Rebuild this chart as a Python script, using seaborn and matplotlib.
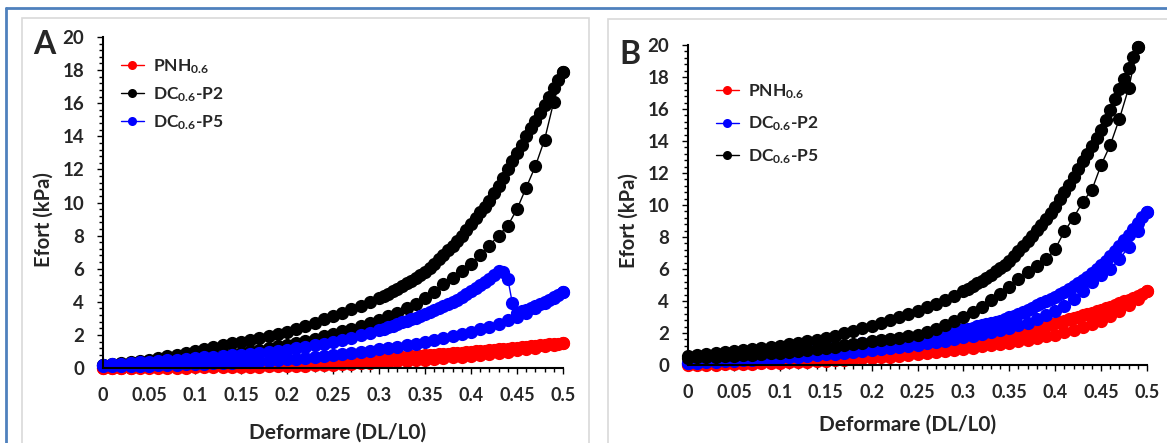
import matplotlib
matplotlib.use("Agg")
import matplotlib.pyplot as plt
from matplotlib.lines import Line2D
from matplotlib.patches import Rectangle
from matplotlib.ticker import MultipleLocator, FormatStrFormatter
import seaborn as sns
import pandas as pd

# strain grid of the loading branches (denser where the curves get steep)
STRAIN_LOAD = [
    0.00, 0.01, 0.02, 0.03, 0.04, 0.05, 0.06, 0.07, 0.08, 0.09,
    0.10, 0.11, 0.12, 0.13, 0.14, 0.15, 0.16, 0.17, 0.18, 0.19,
    0.20, 0.21, 0.22, 0.23, 0.24, 0.25, 0.26, 0.27, 0.28, 0.29,
    0.30, 0.305, 0.31, 0.315, 0.32, 0.325, 0.33, 0.335, 0.34, 0.345, 0.35,
    0.355, 0.36, 0.365, 0.37, 0.375, 0.38, 0.385, 0.39, 0.395, 0.40,
    0.405, 0.41, 0.415, 0.42, 0.425, 0.43, 0.435, 0.44, 0.445, 0.45,
    0.455, 0.46, 0.465, 0.47, 0.475, 0.48, 0.485, 0.49, 0.495, 0.50,
]
# strain grid of the unloading branches (going back to zero)
STRAIN_UNLOAD = [
    0.50, 0.49, 0.48, 0.47, 0.46, 0.45, 0.44, 0.43, 0.42, 0.41,
    0.40, 0.39, 0.38, 0.37, 0.36, 0.35, 0.34, 0.33, 0.32, 0.31,
    0.30, 0.29, 0.28, 0.27, 0.26, 0.25, 0.24, 0.23, 0.22, 0.21,
    0.20, 0.19, 0.18, 0.17, 0.16, 0.15, 0.14, 0.13, 0.12, 0.11,
    0.10, 0.09, 0.08, 0.07, 0.06, 0.05, 0.04, 0.03, 0.02, 0.01,
    0.00,
]

# ---- panel A (kPa) ----
A_PNH_LOAD = [
    0.00, 0.01, 0.02, 0.03, 0.04, 0.05, 0.06, 0.07, 0.08, 0.10,
    0.11, 0.13, 0.14, 0.16, 0.18, 0.20, 0.22, 0.24, 0.26, 0.28,
    0.30, 0.32, 0.35, 0.37, 0.40, 0.42, 0.45, 0.48, 0.51, 0.54,
    0.57, 0.59, 0.60, 0.62, 0.64, 0.66, 0.68, 0.70, 0.72, 0.74, 0.76,
    0.78, 0.80, 0.82, 0.84, 0.86, 0.88, 0.91, 0.93, 0.95, 0.97,
    1.00, 1.02, 1.04, 1.07, 1.09, 1.12, 1.14, 1.17, 1.19, 1.22,
    1.25, 1.27, 1.30, 1.33, 1.36, 1.39, 1.42, 1.45, 1.48, 1.51,
]
A_PNH_UNLOAD = [
    1.50, 1.40, 1.31, 1.22, 1.14, 1.06, 0.99, 0.92, 0.86, 0.80,
    0.74, 0.69, 0.64, 0.59, 0.55, 0.51, 0.47, 0.43, 0.40, 0.37,
    0.34, 0.31, 0.28, 0.26, 0.23, 0.21, 0.19, 0.17, 0.15, 0.14,
    0.12, 0.11, 0.10, 0.09, 0.08, 0.07, 0.06, 0.05, 0.05, 0.04,
    0.04, 0.03, 0.03, 0.02, 0.02, 0.01, 0.01, 0.01, 0.00, 0.00,
    0.00,
]
A_P2_LOAD = [
    0.20, 0.25, 0.31, 0.37, 0.43, 0.50, 0.60, 0.70, 0.81, 0.93,
    1.05, 1.16, 1.27, 1.38, 1.49, 1.60, 1.71, 1.83, 1.95, 2.07,
    2.20, 2.37, 2.55, 2.74, 2.94, 3.15, 3.35, 3.55, 3.76, 3.98,
    4.20, 4.34, 4.48, 4.63, 4.79, 4.95, 5.11, 5.28, 5.45, 5.62, 5.80,
    6.05, 6.30, 6.56, 6.83, 7.10, 7.38, 7.67, 7.97, 8.33, 8.70,
    9.05, 9.40, 9.75, 10.10, 10.55, 11.00, 11.50, 12.00, 12.50, 13.00,
    13.50, 14.00, 14.48, 14.95, 15.43, 15.90, 16.40, 16.90, 17.40, 17.90,
]
A_P2_UNLOAD = [
    17.90, 16.10, 13.80, 12.20, 10.90, 9.60, 8.60, 8.00, 7.40, 6.80,
    6.30, 5.85, 5.45, 5.05, 4.60, 4.20, 3.88, 3.60, 3.35, 3.12,
    2.90, 2.72, 2.55, 2.38, 2.22, 2.05, 1.92, 1.78, 1.65, 1.52,
    1.40, 1.30, 1.20, 1.10, 1.00, 0.92, 0.85, 0.78, 0.71, 0.65,
    0.60, 0.55, 0.50, 0.45, 0.40, 0.36, 0.32, 0.28, 0.24, 0.20,
    0.16,
]
A_P5_LOAD = [
    0.18, 0.22, 0.26, 0.30, 0.34, 0.38, 0.42, 0.46, 0.50, 0.55,
    0.60, 0.64, 0.68, 0.72, 0.76, 0.81, 0.86, 0.92, 0.98, 1.04,
    1.10, 1.18, 1.27, 1.37, 1.48, 1.58, 1.70, 1.83, 1.98, 2.13,
    2.30, 2.38, 2.47, 2.56, 2.65, 2.75, 2.85, 2.95, 3.05, 3.15, 3.25,
    3.37, 3.49, 3.61, 3.73, 3.86, 3.99, 4.13, 4.27, 4.45, 4.65,
    4.82, 5.00, 5.18, 5.38, 5.60, 5.85, 5.80, 5.40, 3.90, 3.35,
    3.42, 3.52, 3.63, 3.75, 3.87, 3.99, 4.12, 4.26, 4.42, 4.60,
]
A_P5_UNLOAD = [
    4.60, 4.25, 3.95, 3.65, 3.35, 3.10, 2.88, 2.68, 2.50, 2.34,
    2.19, 2.05, 1.92, 1.80, 1.69, 1.58, 1.48, 1.38, 1.29, 1.20,
    1.12, 1.04, 0.97, 0.90, 0.84, 0.78, 0.72, 0.67, 0.62, 0.57,
    0.53, 0.49, 0.45, 0.42, 0.39, 0.36, 0.33, 0.30, 0.28, 0.26,
    0.24, 0.22, 0.20, 0.18, 0.16, 0.15, 0.13, 0.12, 0.11, 0.10,
    0.10,
]

# ---- panel B (kPa) ----
B_PNH_LOAD = [
    0.05, 0.08, 0.10, 0.12, 0.14, 0.16, 0.20, 0.24, 0.28, 0.32,
    0.36, 0.41, 0.46, 0.51, 0.56, 0.62, 0.68, 0.74, 0.80, 0.87,
    0.94, 1.00, 1.06, 1.12, 1.18, 1.24, 1.30, 1.37, 1.44, 1.51,
    1.58, 1.62, 1.66, 1.70, 1.74, 1.78, 1.83, 1.88, 1.93, 1.98, 2.03,
    2.08, 2.13, 2.19, 2.25, 2.31, 2.37, 2.43, 2.50, 2.57, 2.64,
    2.71, 2.78, 2.86, 2.94, 3.02, 3.10, 3.18, 3.27, 3.36, 3.45,
    3.55, 3.65, 3.75, 3.86, 3.97, 4.08, 4.20, 4.33, 4.46, 4.60,
]
B_PNH_UNLOAD = [
    4.60, 4.15, 3.75, 3.40, 3.05, 2.75, 2.55, 2.36, 2.20, 2.04,
    1.90, 1.79, 1.68, 1.58, 1.49, 1.40, 1.32, 1.24, 1.16, 1.08,
    1.00, 0.93, 0.86, 0.79, 0.72, 0.66, 0.62, 0.58, 0.53, 0.49,
    0.45, 0.41, 0.37, 0.33, 0.29, 0.25, 0.23, 0.21, 0.19, 0.17,
    0.15, 0.13, 0.11, 0.09, 0.07, 0.05, 0.04, 0.03, 0.02, 0.01,
    0.00,
]
B_P2_LOAD = [
    0.15, 0.19, 0.23, 0.27, 0.31, 0.35, 0.45, 0.60, 0.75, 0.78,
    0.81, 0.86, 0.91, 0.96, 1.02, 1.08, 1.14, 1.21, 1.28, 1.35,
    1.42, 1.48, 1.54, 1.60, 1.67, 1.75, 1.83, 1.92, 2.01, 2.11,
    2.22, 2.28, 2.34, 2.41, 2.48, 2.55, 2.62, 2.70, 2.78, 2.87, 2.97,
    3.08, 3.19, 3.31, 3.44, 3.58, 3.72, 3.86, 4.00, 4.14, 4.28,
    4.43, 4.59, 4.76, 4.94, 5.13, 5.33, 5.53, 5.75, 5.98, 6.22,
    6.50, 6.80, 7.12, 7.46, 7.80, 8.15, 8.50, 8.86, 9.22, 9.58,
]
B_P2_UNLOAD = [
    9.58, 8.40, 7.40, 6.60, 6.00, 5.60, 5.20, 4.60, 4.10, 3.70,
    3.40, 3.10, 2.85, 2.65, 2.48, 2.32, 2.18, 2.05, 1.93, 1.82,
    1.72, 1.62, 1.53, 1.44, 1.36, 1.28, 1.20, 1.13, 1.06, 0.99,
    0.93, 0.87, 0.81, 0.76, 0.71, 0.66, 0.61, 0.57, 0.52, 0.48,
    0.44, 0.40, 0.36, 0.33, 0.29, 0.26, 0.23, 0.20, 0.17, 0.14,
    0.12,
]
# P5 in panel B peaks at 0.49 strain
B_P5_LOAD = [
    0.55, 0.62, 0.69, 0.76, 0.83, 0.90, 0.96, 1.02, 1.08, 1.14,
    1.20, 1.29, 1.38, 1.48, 1.59, 1.70, 1.84, 1.98, 2.13, 2.29,
    2.45, 2.63, 2.81, 3.00, 3.20, 3.40, 3.62, 3.84, 4.08, 4.33,
    4.60, 4.76, 4.93, 5.10, 5.28, 5.46, 5.65, 5.85, 6.06, 6.28, 6.50,
    6.80, 7.10, 7.42, 7.75, 8.08, 8.42, 8.77, 9.13, 9.51, 9.90,
    10.35, 10.80, 11.27, 11.75, 12.23, 12.72, 13.21, 13.70, 14.20, 14.70,
    15.33, 15.96, 16.60, 17.25, 17.90, 18.55, 19.22, 19.90,
]
B_P5_UNLOAD = [
    19.90, 17.30, 15.40, 13.75, 12.50, 10.95, 10.20, 9.20, 8.35,
    7.25, 6.60, 6.20, 5.80, 5.40, 4.85, 4.45, 4.05, 3.65, 3.30,
    3.00, 2.75, 2.50, 2.28, 2.08, 1.90, 1.80, 1.70, 1.63, 1.56,
    1.50, 1.40, 1.31, 1.22, 1.14, 1.07, 1.00, 0.93, 0.87, 0.81,
    0.76, 0.72, 0.68, 0.64, 0.60, 0.57, 0.54, 0.52, 0.50, 0.48,
    0.46,
]

COLORS = {"PNH0.6": "#ff0000", "DC0.6-P2": "#000000", "DC0.6-P5": "#0000ff"}
COLORS_B = {"PNH0.6": "#ff0000", "DC0.6-P2": "#0000ff", "DC0.6-P5": "#000000"}
LABELS = {"PNH0.6": r"PNH$_{0.6}$", "DC0.6-P2": r"DC$_{0.6}$-P2", "DC0.6-P5": r"DC$_{0.6}$-P5"}
ORDER = ["PNH0.6", "DC0.6-P2", "DC0.6-P5"]


def make_frame(curves):
    parts = []
    for name, (xl, yl, xu, yu) in curves.items():
        parts.append(pd.DataFrame({
            "strain": list(xl) + list(xu),
            "stress": list(yl) + list(yu),
            "sample": name,
        }))
    return pd.concat(parts, ignore_index=True)


df_a = make_frame({
    "PNH0.6": (STRAIN_LOAD, A_PNH_LOAD, STRAIN_UNLOAD, A_PNH_UNLOAD),
    "DC0.6-P2": (STRAIN_LOAD, A_P2_LOAD, STRAIN_UNLOAD, A_P2_UNLOAD),
    "DC0.6-P5": (STRAIN_LOAD, A_P5_LOAD, STRAIN_UNLOAD, A_P5_UNLOAD),
})
df_b = make_frame({
    "PNH0.6": (STRAIN_LOAD, B_PNH_LOAD, STRAIN_UNLOAD, B_PNH_UNLOAD),
    "DC0.6-P2": (STRAIN_LOAD, B_P2_LOAD, STRAIN_UNLOAD, B_P2_UNLOAD),
    "DC0.6-P5": (STRAIN_LOAD[:69], B_P5_LOAD, STRAIN_UNLOAD[1:], B_P5_UNLOAD),
})

sns.set_style("ticks")
plt.rcParams["font.family"] = ["Lato", "DejaVu Sans"]
plt.rcParams["font.weight"] = "bold"
plt.rcParams["mathtext.default"] = "regular"

fig = plt.figure(figsize=(11.67, 4.43), dpi=100)
W, H = 1167, 443

# outer frame and panel boxes
fig.add_artist(Line2D([6 / W, 1.0], [1 - 8 / H, 1 - 8 / H], color="#4f81bd", lw=2, transform=fig.transFigure))
fig.add_artist(Line2D([6 / W, 6 / W], [1 - 8 / H, 0], color="#4f81bd", lw=2, transform=fig.transFigure))
fig.add_artist(Rectangle((22 / W, -0.1), (589 - 22) / W, 1.1 - 18 / H, fill=False,
                         ec="#d9d9d9", lw=1.2, transform=fig.transFigure))
fig.add_artist(Rectangle((608 / W, -0.1), 0.6, 1.1 - 19 / H, fill=False,
                         ec="#d9d9d9", lw=1.2, transform=fig.transFigure))

ax_a = fig.add_axes([103 / W, 1 - 368 / H, 460 / W, 331 / H])
ax_b = fig.add_axes([688 / W, 1 - 365 / H, 459 / W, 320 / H])


def draw_panel(ax, df, palette, leg_anchor, spacing, xlab_pos, ylab_pos):
    sns.lineplot(data=df, x="strain", y="stress", hue="sample", hue_order=ORDER,
                 palette=palette, estimator=None, sort=False, marker="o",
                 markersize=9.5, markeredgewidth=0, linewidth=1, legend=False,
                 clip_on=False, ax=ax)
    ax.set_xlim(0, 0.5)
    ax.set_ylim(0, 20)
    ax.xaxis.set_major_locator(MultipleLocator(0.05))
    ax.xaxis.set_minor_locator(MultipleLocator(0.01))
    ax.yaxis.set_major_locator(MultipleLocator(2))
    ax.yaxis.set_minor_locator(MultipleLocator(0.4))
    ax.xaxis.set_major_formatter(FormatStrFormatter("%g"))
    ax.yaxis.set_major_formatter(FormatStrFormatter("%g"))
    ax.tick_params(which="both", direction="out", width=1, color="black")
    ax.tick_params(which="major", length=4.5)
    ax.tick_params(which="minor", length=2.8)
    ax.tick_params(axis="x", which="major", labelsize=13, pad=9)
    ax.tick_params(axis="y", which="major", labelsize=13.5, pad=9)
    for s in ["top", "right"]:
        ax.spines[s].set_visible(False)
    for s in ["left", "bottom"]:
        ax.spines[s].set_linewidth(1.5)
        ax.spines[s].set_color("black")
    ax.set_xlabel("Deformare (DL/L0)", fontsize=15, fontweight="bold")
    ax.set_ylabel("Efort (kPa)", fontsize=14.5, fontweight="bold")
    ax.xaxis.set_label_coords(*xlab_pos)
    ax.yaxis.set_label_coords(*ylab_pos)
    ax.xaxis.label.set_va("center")
    ax.yaxis.label.set_va("center")
    handles = [Line2D([], [], color=palette[k], marker="o", markersize=6.5,
                      markeredgewidth=0, lw=1) for k in ORDER]
    ax.legend(handles, [LABELS[k] for k in ORDER], loc="upper left",
              bbox_to_anchor=leg_anchor, frameon=False, fontsize=12.5,
              handlelength=1.3, handletextpad=0.55, labelspacing=spacing,
              borderaxespad=0, borderpad=0)


draw_panel(ax_a, df_a, COLORS, (0.039, 0.94), 0.55, (0.509, -0.196), (-0.128, 0.447))
draw_panel(ax_b, df_b, COLORS_B, (0.061, 0.884), 0.8, (0.479, -0.1875), (-0.129, 0.45))

fig.text(44 / W, 1 - 45 / H, "A", fontsize=23, fontweight="bold", ha="center", va="center")
fig.text(630 / W, 1 - 54 / H, "B", fontsize=23, fontweight="bold", ha="center", va="center")

fig.savefig("out.png", dpi=100)
